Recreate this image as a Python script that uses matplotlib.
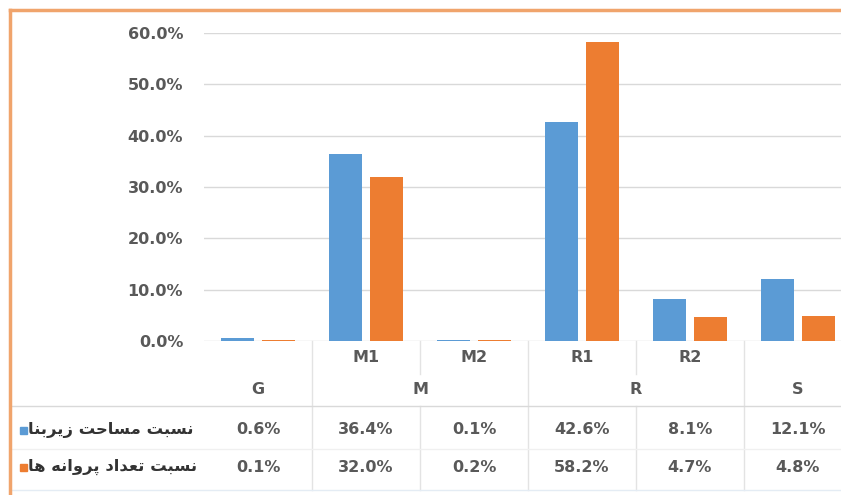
import numpy as np
import matplotlib.pyplot as plt
from matplotlib.transforms import blended_transform_factory
from matplotlib.lines import Line2D

# data
categories = ['G', 'M1', 'M2', 'R1', 'R2', 'S']
sub_labels = ['', 'M1', 'M2', 'R1', 'R2', '']
groups = ['G', 'M', 'R', 'S']
group_spans = [(0, 0), (1, 2), (3, 4), (5, 5)]
area_share = [0.006, 0.364, 0.001, 0.426, 0.081, 0.121]
permit_share = [0.001, 0.320, 0.002, 0.582, 0.047, 0.048]
series_names = ['نسبت مساحت زیربنا', 'نسبت تعداد پروانه ها']
yticks = [0.0, 0.1, 0.2, 0.3, 0.4, 0.5, 0.6]

BLUE = '#5B9BD5'
ORANGE = '#ED7D31'
GRID = '#D9D9D9'
TXT = '#595959'

# minimal Persian shaping (matplotlib has no bidi / joining)
FORMS = {
    'ا': ('\uFE8D', '\uFE8E'), 'د': ('\uFEA9', '\uFEAA'), 'ر': ('\uFEAD', '\uFEAE'),
    'ز': ('\uFEAF', '\uFEB0'), 'و': ('\uFEED', '\uFEEE'),
    'ب': ('\uFE8F', '\uFE90', '\uFE91', '\uFE92'), 'پ': ('\uFB56', '\uFB57', '\uFB58', '\uFB59'),
    'ت': ('\uFE95', '\uFE96', '\uFE97', '\uFE98'), 'ح': ('\uFEA1', '\uFEA2', '\uFEA3', '\uFEA4'),
    'س': ('\uFEB1', '\uFEB2', '\uFEB3', '\uFEB4'), 'ع': ('\uFEC9', '\uFECA', '\uFECB', '\uFECC'),
    'م': ('\uFEE1', '\uFEE2', '\uFEE3', '\uFEE4'), 'ن': ('\uFEE5', '\uFEE6', '\uFEE7', '\uFEE8'),
    'ه': ('\uFEE9', '\uFEEA', '\uFEEB', '\uFEEC'), 'ی': ('\uFEEF', '\uFEF0', '\uFEF3', '\uFEF4'),
}


def shape(s):
    out = []
    for i, c in enumerate(s):
        if c not in FORMS:
            out.append(c)
            continue
        f = FORMS[c]
        prev = s[i - 1] if i > 0 else ' '
        nxt = s[i + 1] if i + 1 < len(s) else ' '
        pj = prev in FORMS and len(FORMS[prev]) == 4
        nj = nxt in FORMS and len(f) == 4
        if pj and nj:
            out.append(f[3])
        elif pj:
            out.append(f[1])
        elif nj:
            out.append(f[2])
        else:
            out.append(f[0])
    return ''.join(out[::-1])


W, H = 841, 495
fig = plt.figure(figsize=(W / 100, H / 100), dpi=100)


def fx(px):
    return px / W


def fy(py):
    return 1 - py / H


ax = fig.add_axes([fx(204), fy(341), fx(852) - fx(204), fy(33) - fy(341)])
x = np.arange(len(categories))
bw = 0.31
ax.bar(x - 0.19, area_share, bw, color=BLUE, zorder=3)
ax.bar(x + 0.19, permit_share, bw, color=ORANGE, zorder=3)

ax.set_xlim(-0.5, len(categories) - 0.5)
ax.set_ylim(0, 0.6)
ax.set_yticks(yticks)
ax.set_yticklabels([f'{v:.1%}' for v in yticks], color=TXT, fontsize=11.5, fontweight='bold')
ax.tick_params(axis='y', length=0, pad=15)
ax.set_xticks([])
ax.yaxis.grid(True, color=GRID, lw=1)
ax.set_axisbelow(True)
for sp in ax.spines.values():
    sp.set_visible(False)

# data table under the plot
tr = blended_transform_factory(ax.transData, fig.transFigure)
kw = dict(transform=tr, ha='center', va='center', color=TXT, fontsize=11.5, fontweight='bold')
for i, lab in enumerate(sub_labels):
    if lab:
        fig.text(i, fy(357), lab, **kw)
for g, (a, b) in zip(groups, group_spans):
    fig.text((a + b) / 2, fy(390), g, **kw)
for i in range(len(categories)):
    fig.text(i, fy(430), f'{area_share[i]:.1%}', **kw)
    fig.text(i, fy(467), f'{permit_share[i]:.1%}', **kw)

# table grid lines
for b in np.arange(0.5, len(categories) - 0.5):
    inner = any(a <= b - 0.5 and b + 0.5 <= e for a, e in group_spans)
    segs = [(341, 374), (406, 490)] if inner else [(341, 490)]
    for y0, y1 in segs:
        fig.add_artist(Line2D([b, b], [fy(y0), fy(y1)], transform=tr, color='#E3E3E3', lw=1))
fig.add_artist(Line2D([fx(12), 1], [fy(406), fy(406)], color=GRID, lw=1))
fig.add_artist(Line2D([fx(12), 1], [fy(449), fy(449)], color='#F0F0F0', lw=1))
fig.add_artist(Line2D([fx(12), 1], [fy(490), fy(490)], color='#E4ECF4', lw=1))

# legend keys + series names
for name, col, py in zip(series_names, [BLUE, ORANGE], [430, 467]):
    fig.patches.append(plt.Rectangle((fx(20), fy(py) - 3.5 / H), 7 / W, 7 / H,
                                     transform=fig.transFigure, color=col, figure=fig))
    fig.text(fx(28), fy(py), shape(name), ha='left', va='center', color='#333333',
             fontsize=11.8, fontweight='bold', family='DejaVu Sans')

# chart border (left + top visible)
fig.add_artist(Line2D([fx(10), fx(10)], [fy(10), 0], color='#F0A46C', lw=2.5))
fig.add_artist(Line2D([fx(10), 1], [fy(10), fy(10)], color='#F0A46C', lw=2.5))

fig.savefig('out.png', dpi=100)
